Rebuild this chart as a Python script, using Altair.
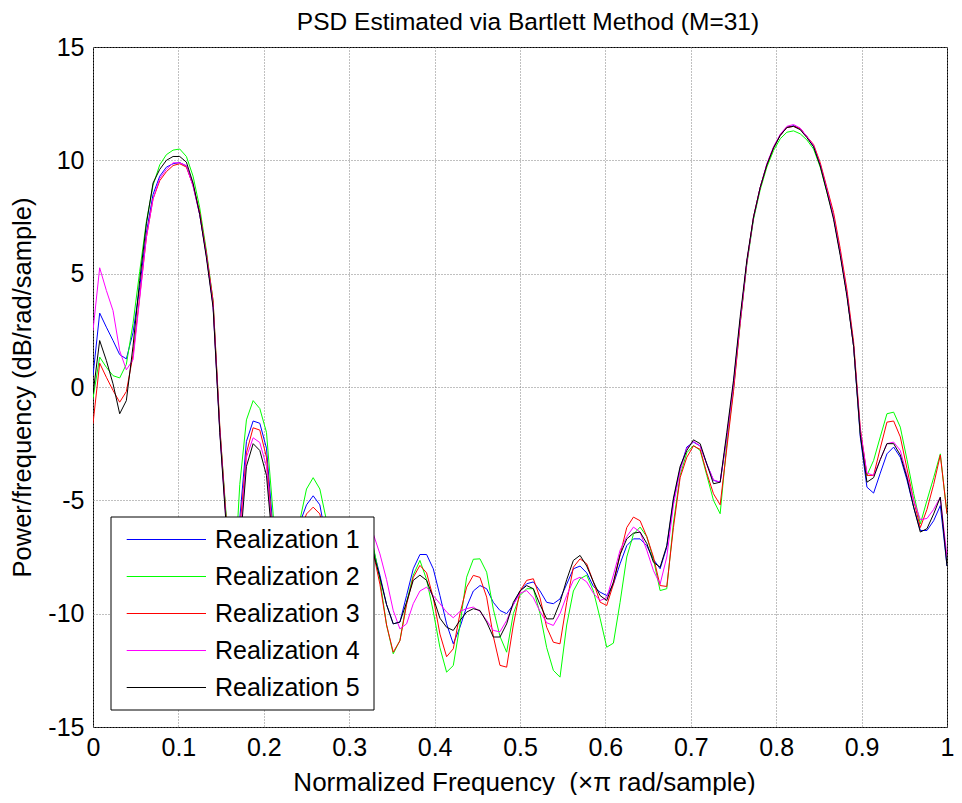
import altair as alt
import pandas as pd

FONT = "Liberation Sans"

series_names = ["Realization 1", "Realization 2", "Realization 3", "Realization 4", "Realization 5"]
series_colors = ["#0000ff", "#00ff00", "#ff0000", "#ff00ff", "#000000"]
legend_rows = [0, 1, 2, 3, 4]

n_bins = 128
freq = [k / n_bins for k in range(n_bins + 1)]

r1 = [0.5, 3.26, 2.64, 2.05, 1.43, 1.24, 2.4, 4.4, 6.8, 8.5,
      9.3, 9.7, 9.85, 9.9, 9.75, 8.9, 7.6, 5.8, 3.6, -1.9,
      -6.0, -12.0, -5.8, -2.4, -1.5, -1.6, -2.7, -6.3, -11.5, -13.0,
      -8.5, -6.0, -5.2, -4.8, -5.2, -6.8, -10.0, -13.0, -11.0, -8.5,
      -7.2, -6.8, -7.14, -8.3, -9.6, -10.45, -10.37, -9.2, -8.02, -7.39,
      -7.39, -8.02, -9.2, -10.45, -11.33, -10.6, -9.7, -9.0, -8.76, -8.9,
      -9.5, -9.86, -10.0, -9.6, -9.0, -8.68, -8.6, -9.0, -9.5, -9.56,
      -9.35, -8.7, -8.02, -7.9, -8.2, -8.8, -9.05, -9.2, -8.7, -7.8,
      -7.0, -6.7, -6.7, -7.0, -7.6, -8.02, -7.07, -5.0, -3.6, -2.65,
      -2.43, -2.6, -3.4, -4.12, -4.2, -2.2, 0.14, 2.93, 5.5, 7.45,
      8.8, 9.8, 10.55, 11.1, 11.45, 11.53, 11.4, 11.05, 10.6, 9.8,
      8.7, 7.5, 5.9, 4.1, 1.8, -2.2, -4.42, -4.68, -3.8, -2.95,
      -2.65, -3.1, -4.1, -5.3, -6.33, -6.33, -5.9, -5.23, -7.9]

r2 = [-0.5, 1.32, 0.87, 0.5, 0.4, 1.0, 2.8, 5.1, 7.3, 8.9,
      9.8, 10.25, 10.45, 10.5, 10.17, 9.3, 7.9, 6.0, 3.8, -1.8,
      -5.8, -9.5, -4.3, -1.45, -0.6, -0.95, -2.0, -5.6, -10.5, -12.5,
      -8.0, -5.9, -4.5, -4.0, -4.5, -5.9, -9.5, -12.5, -11.0, -8.5,
      -7.3, -6.8, -7.0, -8.5, -10.5, -11.77, -11.18, -9.5, -8.3, -7.65,
      -8.5, -9.9, -11.5, -12.58, -12.29, -10.5, -8.39, -7.6, -7.58, -8.17,
      -9.8, -11.0, -11.7, -10.0, -9.2, -8.9, -8.9, -10.0, -11.5, -12.5,
      -12.8, -10.5, -9.0, -8.46, -8.3, -9.0, -10.2, -11.48, -11.3, -9.5,
      -7.5, -6.5, -6.18, -6.6, -7.6, -8.98, -8.9, -6.0, -3.9, -2.9,
      -2.58, -2.8, -3.9, -5.0, -5.59, -2.5, -0.1, 2.8, 5.4, 7.4,
      8.7, 9.7, 10.43, 10.95, 11.24, 11.3, 11.17, 10.9, 10.5, 9.7,
      8.6, 7.5, 5.9, 4.1, 1.8, -2.0, -3.9, -3.24, -2.2, -1.18,
      -1.11, -1.77, -3.2, -4.7, -6.04, -5.0, -4.0, -2.95, -5.59]

r3 = [-1.62, 1.05, 0.43, -0.15, -0.67, -0.2, 1.4, 4.0, 6.6, 8.3,
      9.1, 9.5, 9.77, 9.85, 9.7, 8.9, 7.7, 5.9, 3.8, -1.7,
      -6.0, -11.0, -6.3, -2.9, -1.8, -1.9, -3.1, -6.8, -12.0, -13.5,
      -9.0, -6.4, -5.6, -5.3, -5.6, -7.0, -10.5, -13.5, -11.5, -9.0,
      -7.6, -7.1, -7.3, -8.7, -10.5, -11.7, -11.2, -9.6, -8.4, -7.87,
      -8.2, -9.3, -10.9, -11.9, -11.55, -10.0, -8.83, -8.31, -8.4, -9.27,
      -11.0, -12.28, -12.36, -10.5, -9.0, -8.53, -8.46, -9.3, -10.6, -11.26,
      -11.33, -9.5, -7.95, -7.58, -7.8, -8.6, -9.49, -9.64, -8.7, -7.4,
      -6.2, -5.74, -5.9, -6.6, -7.5, -8.76, -8.8, -6.2, -4.0, -3.1,
      -2.6, -2.75, -3.8, -4.71, -5.2, -2.7, -0.2, 2.8, 5.5, 7.5,
      8.8, 9.8, 10.55, 11.1, 11.45, 11.5, 11.4, 11.05, 10.7, 9.9,
      8.8, 7.7, 6.1, 4.3, 2.0, -1.8, -3.9, -3.9, -2.7, -1.55,
      -1.5, -2.2, -3.6, -5.0, -6.2, -5.4, -4.3, -3.0, -5.6]

r4 = [2.49, 5.26, 4.26, 3.37, 1.6, 0.76, 1.2, 3.9, 6.6, 8.3,
      9.2, 9.6, 9.89, 9.89, 9.77, 8.85, 7.6, 5.8, 3.6, -1.9,
      -6.2, -12.5, -6.8, -3.1, -2.24, -2.45, -3.5, -7.0, -12.0, -14.0,
      -9.5, -6.8, -6.1, -5.9, -6.1, -7.0, -9.0, -11.0, -9.5, -7.5,
      -6.3, -6.2, -6.47, -7.36, -8.5, -9.86, -10.67, -10.45, -9.56, -9.0,
      -8.83, -9.2, -9.56, -9.93, -10.18, -9.9, -9.78, -9.71, -9.9, -10.3,
      -10.74, -10.8, -10.3, -9.6, -9.1, -8.98, -9.3, -9.9, -10.4, -10.52,
      -10.0, -9.2, -8.53, -8.39, -8.6, -9.1, -9.42, -9.3, -8.3, -7.2,
      -6.6, -6.18, -6.4, -7.2, -8.1, -8.7, -7.5, -5.2, -3.7, -2.7,
      -2.4, -2.6, -3.4, -4.1, -4.2, -2.2, 0.1, 2.9, 5.5, 7.5,
      8.8, 9.85, 10.6, 11.15, 11.5, 11.58, 11.42, 11.05, 10.65, 9.8,
      8.7, 7.5, 5.9, 4.1, 1.8, -1.9, -3.8, -3.9, -3.2, -2.5,
      -2.43, -2.8, -3.9, -5.0, -5.85, -5.8, -5.4, -4.86, -7.5]

r5 = [-0.3, 2.05, 1.17, 0.14, -1.18, -0.6, 1.8, 4.7, 7.2, 9.0,
      9.6, 10.0, 10.17, 10.17, 9.92, 9.0, 7.6, 5.7, 3.5, -2.0,
      -6.3, -13.0, -7.2, -3.5, -2.5, -2.8, -3.9, -7.2, -12.5, -14.0,
      -9.5, -7.0, -6.5, -6.2, -6.5, -7.5, -10.0, -12.5, -10.5, -8.5,
      -7.5, -7.2, -7.3, -8.4, -9.6, -10.45, -10.37, -9.5, -8.53, -8.3,
      -8.53, -9.3, -10.2, -10.6, -10.74, -10.3, -9.93, -9.78, -9.86, -10.37,
      -11.03, -11.03, -10.45, -9.5, -9.0, -8.76, -8.9, -9.6, -10.23, -10.23,
      -9.5, -8.5, -7.65, -7.43, -7.9, -8.6, -9.2, -9.42, -8.6, -7.4,
      -6.7, -6.45, -6.4, -6.9, -7.73, -7.95, -7.0, -4.9, -3.5, -2.8,
      -2.33, -2.5, -3.4, -4.27, -4.2, -2.0, 0.3, 3.1, 5.6, 7.5,
      8.8, 9.8, 10.55, 11.1, 11.45, 11.5, 11.35, 11.0, 10.6, 9.75,
      8.6, 7.4, 5.8, 4.0, 1.8, -2.1, -4.2, -4.0, -3.2, -2.5,
      -2.5, -3.0, -4.0, -5.3, -6.4, -6.25, -5.6, -4.86, -7.9]

x_ticks = [0, 0.1, 0.2, 0.3, 0.4, 0.5, 0.6, 0.7, 0.8, 0.9, 1]
y_ticks = [-15, -10, -5, 0, 5, 10, 15]

rows = []
for name, vals in zip(series_names, [r1, r2, r3, r4, r5]):
    for f, v in zip(freq, vals):
        rows.append({"freq": f, "psd": v, "series": name})
df = pd.DataFrame(rows)

legend_df = pd.DataFrame({"series": series_names, "row": legend_rows})
box_df = pd.DataFrame({"box": [0]})

W, H = 854, 680

xscale = alt.Scale(domain=[0, 1], nice=False, zero=False)
yscale = alt.Scale(domain=[-15, 15], nice=False, zero=False)
cscale = alt.Scale(domain=series_names, range=series_colors)
rowscale = alt.Scale(domain=[0, 4], range=[492.5, 640.5], nice=False, zero=False)

x_axis = alt.Axis(values=x_ticks, format="~g",
                  title="Normalized Frequency\u00a0 (\u00d7\u03c0 rad/sample)",
                  titleFontSize=26, titleX=431,
                  ticks=False, domain=False, grid=True,
                  labelPadding=8, titlePadding=9,
                  labelFlush=False, labelOverlap=False)
y_axis = alt.Axis(values=y_ticks, labelExpr="'' + datum.value",
                  title="Power/frequency (dB/rad/sample)",
                  titleFontSize=25.5,
                  ticks=False, domain=False, grid=True,
                  labelPadding=9, titlePadding=12,
                  labelFlush=False, labelOverlap=False)

lines = alt.Chart(df).mark_line(strokeWidth=1, clip=True).encode(
    x=alt.X("freq:Q", scale=xscale, axis=x_axis),
    y=alt.Y("psd:Q", scale=yscale, axis=y_axis),
    color=alt.Color("series:N", scale=cscale, legend=None),
)

# legend drawn inside the plot, bottom-left (white box with black border)
legend_box = alt.Chart(box_df).mark_rect(fill="white", stroke="black", strokeWidth=1).encode(
    x=alt.value(18), x2=alt.value(281), y=alt.value(470), y2=alt.value(663))

legend_lines = alt.Chart(legend_df).mark_rule(strokeWidth=1).encode(
    y=alt.Y("row:Q", scale=rowscale, axis=None),
    x=alt.value(33.7), x2=alt.value(113),
    color=alt.Color("series:N", scale=cscale, legend=None),
)

legend_text = alt.Chart(legend_df).mark_text(
    align="left", baseline="middle", font=FONT, fontSize=25, color="black").encode(
    y=alt.Y("row:Q", scale=rowscale, axis=None),
    x=alt.value(122),
    text="series:N",
)

chart = alt.layer(lines, legend_box, legend_lines, legend_text).resolve_scale(
    y="independent"
).properties(
    width=W, height=H,
    title=alt.TitleParams("PSD Estimated via Bartlett Method (M=31)", font=FONT,
                          fontSize=24.5, fontWeight="normal", color="black",
                          frame="group", offset=0, dx=8),
    padding={"left": 85, "top": 39, "right": 7, "bottom": 68},
    autosize=alt.AutoSizeParams(type="none"),
).configure_view(stroke="black", strokeWidth=1).configure_axis(
    labelFont=FONT, titleFont=FONT, labelFontSize=25, titleFontSize=25,
    labelColor="black", titleColor="black", titleFontWeight="normal",
    gridColor="#808080", gridDash=[1, 2], gridWidth=1, gridOpacity=1,
)

chart.save("out.html", embed_options={"renderer": "svg", "actions": False})
